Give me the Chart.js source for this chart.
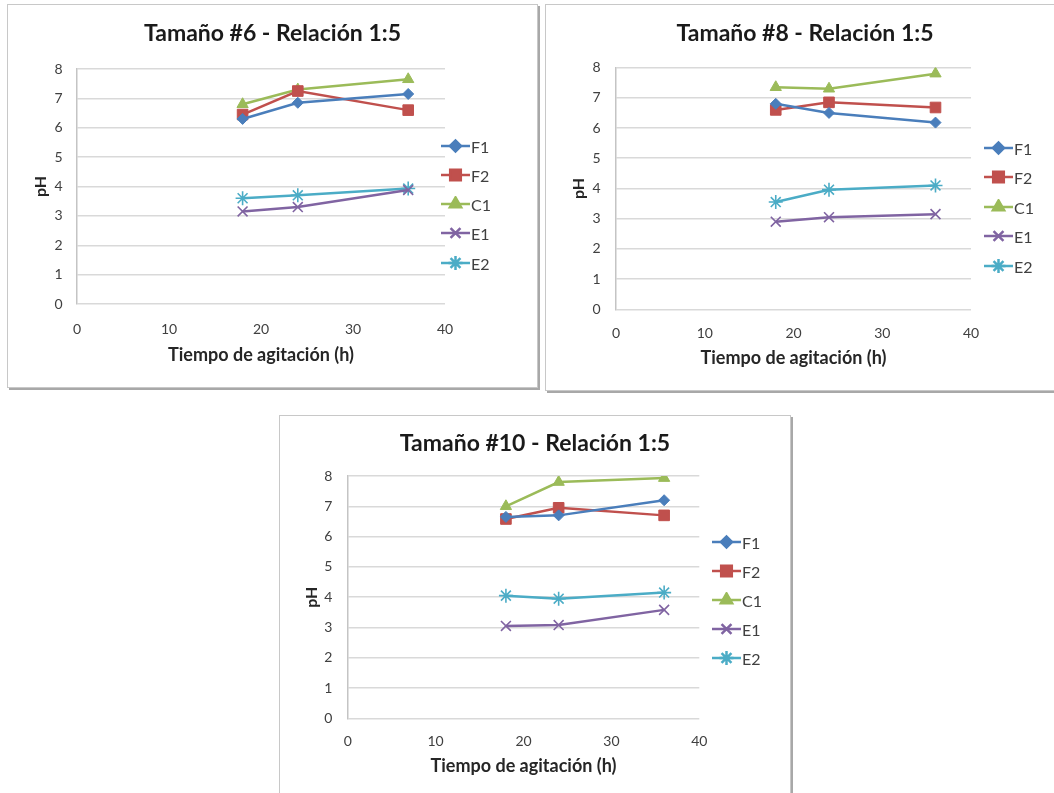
<!DOCTYPE html>
<html>
<head>
<meta charset="utf-8">
<script src="https://cdn.jsdelivr.net/npm/chart.js@4.4.1/dist/chart.umd.min.js"></script>
<style>
  body { margin: 0; width: 1054px; height: 793px; overflow: hidden; position: relative; background: #fff; font-family: Lato, "Open Sans", sans-serif; }
  .panel { position: absolute; background: #fff; border: 1px solid #c8c8c8; box-shadow: 2px 2px 0 #a8a8a8; }
  .panel canvas { position: absolute; left: 0; top: 0; }
  .leg { position: absolute; height: 18px; display: flex; align-items: center; font-size: 16px; color: #404040; white-space: nowrap; }
  .leg canvas { display: block; margin-right: 1px; }
</style>
</head>
<body>
<div class="panel" id="p6" style="left:7px;top:4px;width:529px;height:382px"><canvas id="c6" width="529" height="382"></canvas></div>
<div class="panel" id="p8" style="left:545px;top:4px;width:518px;height:385px"><canvas id="c8" width="518" height="385"></canvas></div>
<div class="panel" id="p10" style="left:279px;top:415px;width:510px;height:385px"><canvas id="c10" width="510" height="385"></canvas></div>
<script>
// pH vs tiempo de agitación, relación 1:5
const hours = [18, 24, 36];
const seriesNames = ["F1", "F2", "C1", "E1", "E2"];
const xTicks = [0, 10, 20, 30, 40];
const yTicks = [0, 1, 2, 3, 4, 5, 6, 7, 8];

// rows: F1, F2, C1, E1, E2
const ph6 = [
  [6.3, 6.85, 7.15],
  [6.45, 7.25, 6.6],
  [6.8, 7.3, 7.65],
  [3.15, 3.3, 3.88],
  [3.6, 3.7, 3.93]
];
const ph8 = [
  [6.8, 6.5, 6.18],
  [6.6, 6.85, 6.68],
  [7.35, 7.3, 7.8],
  [2.9, 3.05, 3.15],
  [3.55, 3.96, 4.1]
];
const ph10 = [
  [6.65, 6.7, 7.2],
  [6.58, 6.95, 6.7],
  [7.0, 7.8, 7.93],
  [3.05, 3.08, 3.58],
  [4.05, 3.95, 4.15]
];

const colors = ["#4a7ebb", "#c0504d", "#9bbb59", "#8064a2", "#4bacc6"];
const markers = ["rectRot", "rect", "triangle", "crossRot", "star"];
const radii = [5.5, 7.5, 6.5, 7, 7];
const textColor = "#404040";
const fontFam = "Lato, 'Open Sans', sans-serif";

function makeChart(id, title, rows, g) {
  const datasets = rows.map((vals, i) => ({
    label: seriesNames[i],
    data: hours.map((h, j) => ({ x: h, y: vals[j] })),
    borderColor: colors[i],
    backgroundColor: colors[i],
    borderWidth: 2.5,
    pointStyle: markers[i],
    pointRadius: radii[i],
    pointBorderWidth: i >= 3 ? 1.6 : 1,
    pointBackgroundColor: colors[i],
    pointBorderColor: colors[i],
    showLine: true,
    tension: 0
  }));

  return new Chart(document.getElementById(id), {
    type: "scatter",
    data: { datasets: datasets },
    options: {
      responsive: false,
      animation: false,
      devicePixelRatio: 1,
      layout: { padding: 0 },
      plugins: {
        legend: { display: false },
        tooltip: { enabled: false },
        title: {
          display: true,
          text: title,
          color: "#1a1a1a",
          font: { family: fontFam, size: 23, weight: "bold" },
          padding: { top: g.titleTop, bottom: g.titleBottom }
        }
      },
      scales: {
        x: {
          type: "linear",
          min: 0, max: 40,
          afterBuildTicks: (s) => { s.ticks = xTicks.map((v) => ({ value: v })); },
          ticks: { padding: g.xTickPad, color: textColor, font: { family: fontFam, size: 14 } },
          grid: { display: false, drawTicks: false },
          border: { display: false },
          title: {
            display: true, text: "Tiempo de agitación (h)", color: "#262626",
            font: { family: fontFam, size: 18, weight: "bold" },
            padding: { top: 0, bottom: g.xTitlePad }
          },
          afterFit: (s) => { s.height = g.xAxisH; }
        },
        y: {
          min: 0, max: 8,
          afterBuildTicks: (s) => { s.ticks = yTicks.map((v) => ({ value: v })); },
          ticks: { padding: g.yTickPad, color: textColor, font: { family: fontFam, size: 14 } },
          grid: { color: "#d9d9d9", lineWidth: 1.5, drawTicks: false },
          border: { display: true, color: "#c4c4c4", width: 1.5 },
          title: {
            display: true, text: "pH", color: "#262626",
            font: { family: fontFam, size: 16, weight: "bold" },
            padding: { top: g.yTitlePad, bottom: 0 }
          },
          afterFit: (s) => { s.width = g.yAxisW; }
        },
        // empty right-hand strip that keeps room for the legend
        legendSpace: {
          position: "right",
          min: 0, max: 1,
          ticks: { display: false },
          grid: { display: false, drawTicks: false },
          border: { display: false },
          afterFit: (s) => { s.width = g.padRight; }
        }
      }
    }
  });
}

makeChart("c6", "Tamaño #6 - Relación 1:5", ph6, {
  padRight: 92, titleTop: 15, titleBottom: 21.4, xAxisH: 83, xTickPad: 17, xTitlePad: 21, yAxisW: 69, yTickPad: 14.5, yTitlePad: 23
});
makeChart("c8", "Tamaño #8 - Relación 1:5", ph8, {
  padRight: 93, titleTop: 15, titleBottom: 20, xAxisH: 80.7, xTickPad: 16, xTitlePad: 21, yAxisW: 70, yTickPad: 15.3, yTitlePad: 23.5
});
makeChart("c10", "Tamaño #10 - Relación 1:5", ph10, {
  padRight: 90.7, titleTop: 14, titleBottom: 18.4, xAxisH: 82.7, xTickPad: 15, xTitlePad: 24.5, yAxisW: 67.7, yTickPad: 15.4, yTitlePad: 22.5
});

// legends: line + marker, like the spreadsheet ones
function drawIcon(cv, i) {
  const ctx = cv.getContext("2d");
  const cy = cv.height / 2, cx = cv.width / 2;
  ctx.strokeStyle = colors[i];
  ctx.fillStyle = colors[i];
  ctx.lineWidth = 2.5;
  ctx.beginPath(); ctx.moveTo(0, cy); ctx.lineTo(cv.width, cy); ctx.stroke();
  const opts = { pointStyle: markers[i], radius: radii[i], rotation: 0, borderWidth: i >= 3 ? 1.6 : 1 };
  if (Chart.helpers && Chart.helpers.drawPoint) {
    Chart.helpers.drawPoint(ctx, opts, cx, cy);
  }
}

const legendSpots = [
  { x: 441, ys: [146, 175, 204, 233, 263] },
  { x: 984, ys: [148, 177, 207, 236, 266] },
  { x: 712, ys: [542, 571, 600, 629, 658] }
];
legendSpots.forEach((spot) => {
  seriesNames.forEach((name, i) => {
    const div = document.createElement("div");
    div.className = "leg";
    div.style.left = spot.x + "px";
    div.style.top = (spot.ys[i] - 9) + "px";
    const cv = document.createElement("canvas");
    cv.width = 29; cv.height = 16;
    drawIcon(cv, i);
    div.appendChild(cv);
    div.appendChild(document.createTextNode(name));
    document.body.appendChild(div);
  });
});
</script>
</body>
</html>
